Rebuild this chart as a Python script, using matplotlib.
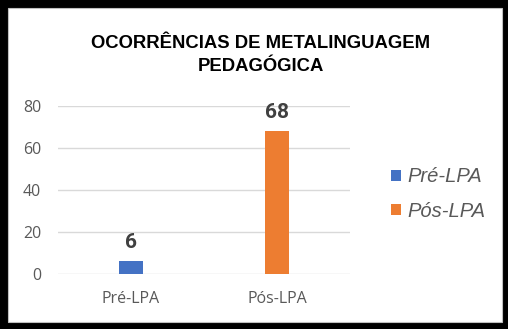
import matplotlib
matplotlib.use("Agg")
import matplotlib.pyplot as plt
from matplotlib.patches import Rectangle

# data
categories = ["Pré-LPA", "Pós-LPA"]
values = [6, 68]
colors = ["#4472c4", "#ed7d31"]
y_ticks = [0, 20, 40, 60, 80]
title = "OCORRÊNCIAS DE METALINGUAGEM\nPEDAGÓGICA"

W, H = 508, 329
fig = plt.figure(figsize=(W / 100, H / 100), dpi=100, facecolor="black")

# white chart area inside the black frame
fig.patches.append(Rectangle((8 / W, 7 / H), 494 / W, 314 / H,
                             transform=fig.transFigure, facecolor="white",
                             edgecolor="#bfbfbf", linewidth=0.8, zorder=-10))

ax = fig.add_axes([58 / W, 1 - 274 / H, 292 / W, 168 / H])
ax.set_facecolor("none")
ax.set_zorder(5)

x = list(range(len(categories)))
bars = ax.bar(x, values, width=0.165, color=colors, zorder=3)

ax.set_xlim(-0.5, 1.5)
ax.set_ylim(0, 80)
ax.set_yticks(y_ticks)
ax.set_xticks(x)
ax.set_xticklabels(categories)
ax.grid(axis="y", color="#d9d9d9", linewidth=1, zorder=0)
for s in ax.spines.values():
    s.set_visible(False)
ax.tick_params(length=0, colors="#595959", labelsize=11.5)
ax.tick_params(axis="y", pad=12)
ax.tick_params(axis="x", pad=12)
for lab in ax.get_xticklabels() + ax.get_yticklabels():
    lab.set_family(["Open Sans", "DejaVu Sans"])

for xi, v in zip(x, values):
    ax.annotate(str(v), (xi, v), xytext=(0, 13.5), textcoords="offset points",
                ha="center", va="center", fontsize=15, fontweight="bold",
                color="#404040", family=["Liberation Sans Narrow", "Roboto", "DejaVu Sans"])

fig.text(261 / W, 1 - 55 / H, title, ha="center", va="center", fontsize=13.3,
         fontweight="black", color="black", linespacing=1.45,
         family=["Liberation Sans", "DejaVu Sans"], zorder=6)

leg = ax.legend(bars, categories, loc="center left",
                bbox_to_anchor=(373 / W, 1 - 194 / H), bbox_transform=fig.transFigure,
                frameon=False, handlelength=0.5, handleheight=0.5, handletextpad=0.3,
                labelspacing=0.75, prop={"family": ["Liberation Sans", "DejaVu Sans"],
                                         "style": "italic", "size": 14.5})
for t in leg.get_texts():
    t.set_color("#595959")

fig.savefig("out.png", dpi=100, facecolor="black")
